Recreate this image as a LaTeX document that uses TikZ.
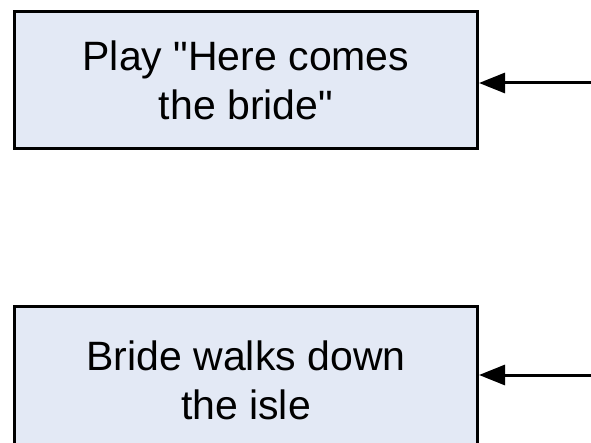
\documentclass[tikz,border=0pt]{standalone}
\usepackage{fontspec}
\setmainfont{Liberation Sans}
\usetikzlibrary{arrows.meta}
\definecolor{boxfill}{RGB}{227,233,245}
\tikzset{
  stepbox/.style={draw=black, fill=boxfill, line width=3pt, rectangle,
    minimum width=463pt, inner sep=0pt, align=center,
    font=\fontsize{41}{49}\selectfont},
  feed/.style={draw=black, line width=3pt, -{Triangle[length=26pt,width=20pt]}}
}
\begin{document}
\begin{tikzpicture}[x=1pt,y=-1pt]
\useasboundingbox (0,0) rectangle (591,443);
\clip (0,0) rectangle (591,443);
\fill[white] (0,0) rectangle (591,443);
\node[stepbox, minimum height=137pt] (b1) at (246,80) {Play \textquotedbl Here comes\\the bride\textquotedbl};
\node[stepbox, minimum height=147pt] (b2) at (246,380) {Bride walks down\\the isle};
\coordinate (s1) at (595,83);
\coordinate (s2) at (595,375);
\draw[feed] (s1) -- (s1 -| b1.east);
\draw[feed] (s2) -- (s2 -| b2.east);
\end{tikzpicture}
\end{document}
